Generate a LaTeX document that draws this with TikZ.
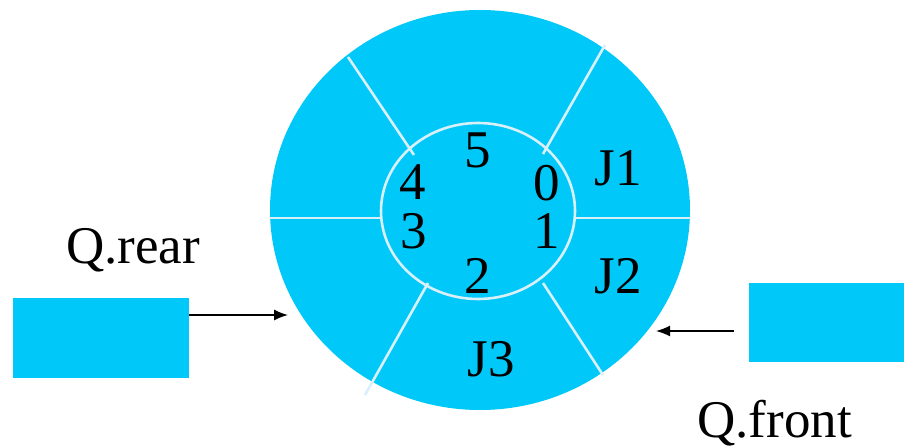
\documentclass[tikz,border=0pt]{standalone}
\usepackage{fontspec}
\setmainfont{Liberation Serif}
\usetikzlibrary{arrows.meta}
\definecolor{qcyan}{RGB}{0,200,248}
\definecolor{qline}{RGB}{215,240,250}
\begin{document}
\begin{tikzpicture}[x=1pt,y=-1pt,
  lbl/.style={inner sep=0pt,anchor=base,font=\fontsize{53}{58}\selectfont},
  qbox/.style={fill=qcyan,draw=none,inner sep=0pt,anchor=north west},
  divider/.style={draw=qline,line width=2.6pt},
  ptr/.style={draw=black,line width=1.5pt,-{Latex[length=14pt,width=11pt]}}]
\useasboundingbox (0,0) rectangle (904,446);
% ring
\fill[qcyan] (480,210) ellipse [x radius=210, y radius=200];
\draw[divider] (478,211) ellipse [x radius=97, y radius=88];
\draw[divider] (270,218) -- (381,218);
\draw[divider] (575,218) -- (690,218);
\draw[divider] (414,155) -- (348,57);
\draw[divider] (543,154) -- (605,45);
\draw[divider] (543,283) -- (603,375);
\draw[divider] (428,283) -- (365,395);
% index labels
\node[lbl] (n5) at (478,168) {5};
\node[lbl] (n4) at (413,200) {4};
\node[lbl] (n0) at (547,201) {0};
\node[lbl] (n3) at (414,248) {3};
\node[lbl] (n1) at (547,248) {1};
\node[lbl] (n2) at (478,293) {2};
\node[lbl] (j1) at (618,186) {J1};
\node[lbl] (j2) at (618,293) {J2};
\node[lbl] (j3) at (491,376) {J3};
% pointers
\node[qbox, minimum width=176pt, minimum height=80pt] (rear) at (13,298) {};
\node[qbox, minimum width=160pt, minimum height=79pt] (front) at (749,283) {};
\node[lbl, anchor=base west] (rearlbl) at (66,263) {Q.rear};
\node[lbl, anchor=base west] (frontlbl) at (697,437) {Q.front};
\coordinate (rearend) at (288,315);
\coordinate (frontend) at (656,331);
\coordinate (rearstart) at (189,315);
\coordinate (frontstart) at (734,331);
\draw[ptr] (rearstart) -- (rearend);
\draw[ptr] (frontstart) -- (frontend);
\end{tikzpicture}
\end{document}
